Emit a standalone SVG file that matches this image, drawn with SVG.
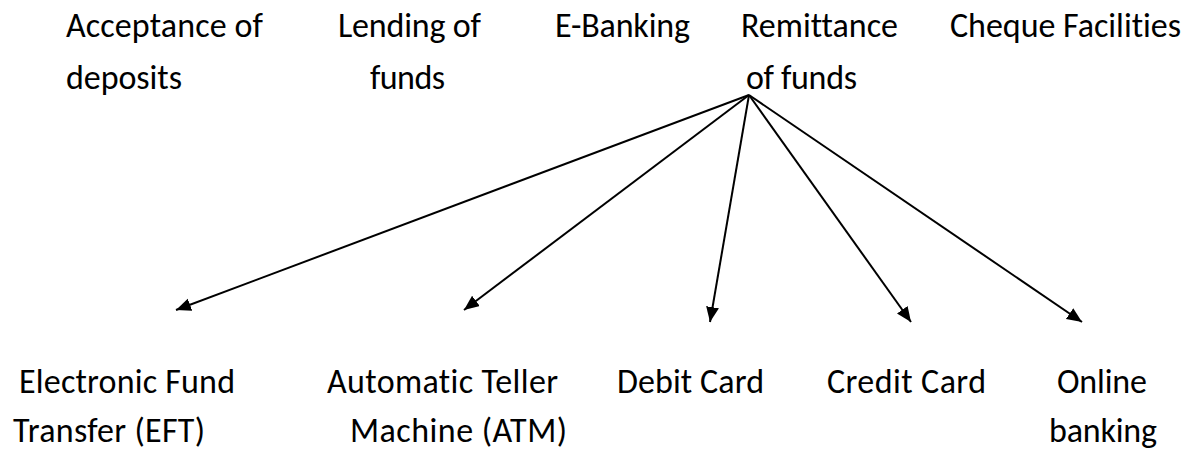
<svg xmlns="http://www.w3.org/2000/svg" width="1188" height="450" viewBox="0 0 1188 450">
  <defs>
    <marker id="arrow" markerUnits="userSpaceOnUse" markerWidth="16" markerHeight="14" refX="15" refY="6.5" orient="auto">
      <path d="M0,0 L15,6.5 L0,13 Z" fill="#000"/>
    </marker>
  </defs>
  <style>
    .t { font-family: "Carlito", "Liberation Sans", Arial, sans-serif; font-size: 34px; fill: #000; font-variant-ligatures: none; font-feature-settings: "liga" 0; }
    .c { stroke: #000; stroke-width: 2; fill: none; marker-end: url(#arrow); }
  </style>
  <rect width="1188" height="450" fill="#fff"/>

  <g id="node-acceptance">
    <text class="t" x="66" y="37" textLength="197">Acceptance of</text>
    <text class="t" x="66" y="89" textLength="116">deposits</text>
  </g>
  <g id="node-lending">
    <text class="t" x="338" y="37" textLength="143">Lending of</text>
    <text class="t" x="370" y="89" textLength="75">funds</text>
  </g>
  <g id="node-ebanking">
    <text class="t" x="555" y="37" textLength="135">E-Banking</text>
  </g>
  <g id="node-remittance">
    <text class="t" x="741" y="37" textLength="157">Remittance</text>
    <text class="t" x="746" y="89" textLength="111">of funds</text>
  </g>
  <g id="node-cheque">
    <text class="t" x="950" y="37" textLength="231">Cheque Facilities</text>
  </g>

  <g id="node-eft">
    <text class="t" x="19" y="393" textLength="216">Electronic Fund</text>
    <text class="t" x="13" y="442" textLength="192">Transfer (EFT)</text>
  </g>
  <g id="node-atm">
    <text class="t" x="327" y="393" textLength="231">Automatic Teller</text>
    <text class="t" x="350" y="442" textLength="217">Machine (ATM)</text>
  </g>
  <g id="node-debit">
    <text class="t" x="617" y="393" textLength="147">Debit Card</text>
  </g>
  <g id="node-credit">
    <text class="t" x="827" y="393" textLength="159">Credit Card</text>
  </g>
  <g id="node-online">
    <text class="t" x="1057" y="393" textLength="90">Online</text>
    <text class="t" x="1049" y="442" textLength="108">banking</text>
  </g>

  <g id="connectors">
    <line class="c" x1="749" y1="95" x2="176" y2="310"/>
    <line class="c" x1="749" y1="95" x2="464" y2="310"/>
    <line class="c" x1="749" y1="95" x2="710" y2="322"/>
    <line class="c" x1="749" y1="95" x2="911" y2="322"/>
    <line class="c" x1="749" y1="95" x2="1082" y2="322"/>
  </g>
</svg>
